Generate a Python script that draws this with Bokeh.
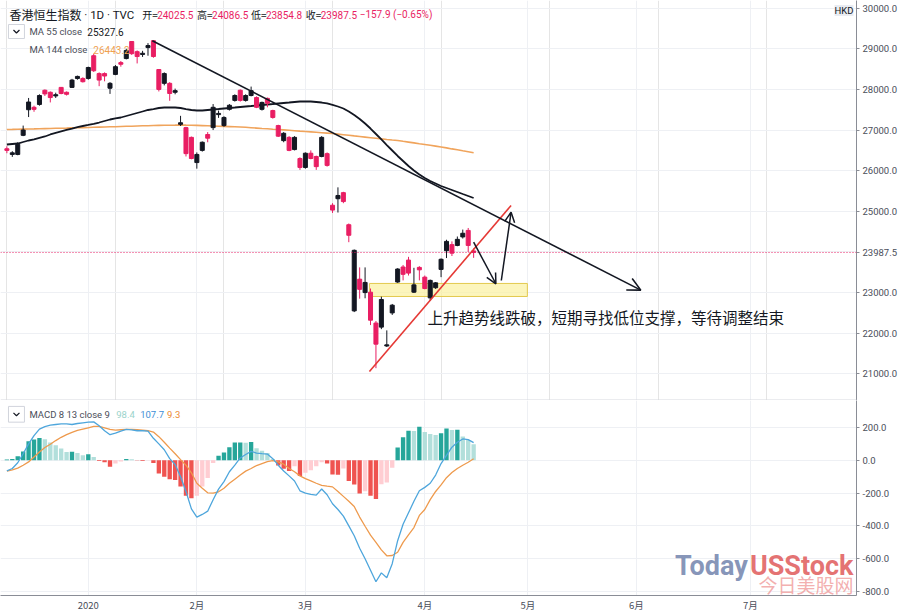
from bokeh.plotting import figure
from bokeh.layouts import column
from bokeh.models import (Range1d, FixedTicker, NumeralTickFormatter, Label, Arrow,
                          OpenHead, Span, Grid)
from bokeh.embed import file_html
from bokeh.resources import INLINE
from bokeh.core.properties import value

# ---------------- data ----------------
opens = [26540, 26400, 26400, 26870, 27500, 27560, 27630, 27980, 27930, 27840,
         28050, 27930, 28050, 28270, 28270, 28270, 28830, 28390, 28390, 28030,
         28370, 28660, 28760, 29180, 28930, 28860, 29030, 29200, 28490, 28150,
         28150, 27930, 27140, 27060, 26820, 26200, 26500, 26890, 27060, 27380,
         27110, 27510, 27730, 27980, 27730, 27850, 27800, 27510, 27780, 27480,
         27110, 26740, 26820, 26520, 26300, 26080, 26430, 26350, 26350, 26420,
         25150, 25310, 25460, 24670, 22550, 23330, 23000, 23010, 22250, 22150,
         21690, 22500, 23260, 23630, 23800, 23010, 23620, 23380, 22870, 23120,
         23570, 24030, 24180, 24160, 24370, 24530, 24025.5]
highs = [26600, 26480, 26700, 27110, 27790, 27600, 27880, 28000, 27950, 27920,
         28060, 27950, 28260, 28340, 28300, 28560, 28880, 28420, 28420, 28180,
         28600, 28700, 29000, 29180, 28960, 28950, 29140, 29200, 28500, 28420,
         28180, 28020, 27350, 27080, 26840, 26450, 26720, 26950, 27640, 27480,
         27340, 27640, 27880, 28000, 27880, 28070, 27830, 27700, 27800, 27500,
         27130, 26950, 26850, 26850, 26330, 26450, 26500, 26370, 26850, 26450,
         25200, 25590, 25480, 24700, 24060, 23620, 23620, 23100, 22300, 22900,
         22070, 22720, 23600, 23680, 23880, 23610, 23650, 23420, 23320, 23260,
         23840, 24300, 24260, 24380, 24550, 24590, 24086.5]
lows = [26430, 26340, 26380, 26850, 27320, 27450, 27600, 27840, 27680, 27790,
        27880, 27850, 28040, 28240, 28170, 28240, 28430, 28080, 28200, 27890,
        28350, 28560, 28740, 28850, 28640, 28800, 28830, 28780, 27950, 28100,
        27720, 27880, 27100, 26350, 26280, 26050, 26470, 26700, 27000, 27300,
        27080, 27480, 27700, 27700, 27700, 27830, 27540, 27480, 27560, 27280,
        26830, 26700, 26480, 26500, 26020, 26050, 26280, 26020, 26330, 26100,
        24960, 24970, 25200, 24240, 22520, 22850, 22860, 22200, 21139, 22100,
        21660, 22450, 23240, 23300, 23420, 22990, 23300, 23080, 22800, 23090,
        23380, 23850, 23900, 24140, 24330, 24000, 23854.8]
closes = [26500, 26440, 26650, 27000, 27690, 27510, 27850, 27890, 27800, 27870,
          27900, 27880, 28230, 28320, 28190, 28540, 28460, 28230, 28330, 28150,
          28560, 28620, 28960, 28880, 28810, 28890, 29080, 28810, 28000, 28390,
          27900, 27970, 27180, 26420, 26300, 26400, 26700, 26800, 27560, 27410,
          27310, 27610, 27850, 27730, 27850, 27970, 27560, 27680, 27660, 27310,
          26850, 26920, 26500, 26820, 26080, 26430, 26300, 26100, 26820, 26130,
          25030, 25390, 25240, 24410, 24040, 23080, 23250, 22320, 21730, 22830,
          21710, 22690, 23580, 23450, 23480, 23190, 23560, 23100, 23300, 23240,
          23820, 24260, 23970, 24310, 24460, 24160, 23987.5]
ma55 = [26645, 26657, 26669, 26706, 26743, 26768, 26805, 26842, 26891, 26928,
        26965, 27002, 27038, 27075, 27100, 27125, 27154, 27186, 27223, 27260,
        27285, 27309, 27346, 27383, 27420, 27457, 27494, 27518, 27543, 27555,
        27560, 27555, 27543, 27518, 27494, 27481, 27481, 27494, 27506, 27518,
        27531, 27543, 27555, 27568, 27580, 27592, 27605, 27617, 27629, 27641,
        27654, 27666, 27678, 27691, 27703, 27703, 27703, 27691, 27678, 27654,
        27617, 27580, 27531, 27457, 27371, 27272, 27161, 27038, 26903, 26768,
        26632, 26497, 26362, 26239, 26116, 26005, 25906, 25820, 25746, 25685,
        25623, 25574, 25525, 25476, 25426, 25377, 25327.6]
ma144 = [27014, 27016, 27019, 27024, 27026, 27029, 27034, 27036, 27038, 27043,
         27046, 27048, 27053, 27056, 27061, 27063, 27068, 27073, 27075, 27080,
         27083, 27088, 27093, 27095, 27100, 27105, 27107, 27112, 27115, 27117,
         27120, 27122, 27125, 27122, 27120, 27115, 27110, 27105, 27100, 27095,
         27090, 27085, 27080, 27075, 27068, 27058, 27048, 27038, 27031, 27021,
         27014, 27004, 26994, 26984, 26974, 26965, 26955, 26945, 26935, 26925,
         26915, 26901, 26886, 26871, 26856, 26842, 26827, 26812, 26797, 26782,
         26768, 26755, 26743, 26723, 26704, 26684, 26664, 26645, 26625, 26605,
         26583, 26561, 26536, 26514, 26490, 26467, 26443.2]
macd_dif = [-64, -50, -15, 40, 100, 150, 190, 205, 214, 218,
            222, 222, 218, 224, 228, 232, 234, 210, 180, 156,
            165, 178, 188, 185, 180, 180, 178, 134, 100, 64,
            10, -26, -100, -190, -296, -346, -330, -310, -240, -176,
            -130, -70, -30, 14, 35, 54, 44, 40, 38, 10,
            -30, -65, -95, -126, -186, -200, -208, -212, -175, -210,
            -265, -300, -340, -400, -460, -536, -600, -670, -740, -686,
            -716, -630, -490, -390, -320, -250, -186, -165, -140, -90,
            -20, 30, 80, 110, 130, 126, 107.7]
macd_dea = [-66, -58, -48, -30, -10, 20, 50, 78, 98, 120,
            140, 156, 170, 182, 190, 198, 206, 206, 198, 188,
            184, 186, 188, 188, 186, 184, 180, 172, 144, 110,
            74, 40, 4, -30, -76, -140, -170, -198, -200, -192,
            -170, -140, -115, -90, -66, -50, -32, -20, -8, -2,
            -10, -24, -50, -70, -95, -112, -125, -140, -153, -158,
            -162, -190, -220, -250, -282, -346, -402, -456, -500, -546,
            -582, -580, -560, -500, -455, -410, -336, -300, -240, -190,
            -150, -106, -75, -50, -30, -12, 9.3]
macd_hist = [4, 8, 24, 54, 116, 126, 136, 128, 108, 92,
             72, 50, 52, 44, 30, 36, 20, -4, -12, -40,
             -20, -8, 8, 6, -2, -4, -1, -16, -80, -100,
             -116, -120, -160, -216, -232, -216, -160, -108, -16, 28,
             48, 80, 108, 108.5, 107, 111, 74, 58, 44, 8,
             -32, -52, -66, -36, -96, -76, -60, -36, -12, -20,
             -86, -88, -50, -126, -148, -202, -188, -216, -236, -146,
             -136, -46, 78, 140, 180, 178, 204, 172, 160, 154,
             164, 194, 184, 186, 145, 124, 98.4]
month_ticks = [15, 35, 55, 77, 96, 116, 137]
month_labels = ["2020", "2月", "3月", "4月", "5月", "6月", "7月"]
price_ticks = [21000, 22000, 23000, 24000, 25000, 26000, 27000, 28000, 29000, 30000]
macd_ticks = [-800, -600, -400, -200, 0, 200]
last_price = 23987.5
# drawn annotations (bar index, price)
down_trend = [(26.8, 29200), (116.8, 23060)]
up_trend = [(66.8, 21058), (92.9, 25143)]
support_zone = (66.8, 95.9, 22904, 23225)
move_arrow1 = [(86.0, 24240), (90.1, 23217)]
move_arrow2 = [(91.1, 23297), (92.9, 24978)]
note_text = "上升趋势线跌破，短期寻找低位支撑，等待调整结束"

n = len(closes)
idx = list(range(n))

# ---------------- geometry helpers ----------------
BAR = 5.44
W = 900
RB = 42
FW = W - RB
XS = -6.4 / BAR
XE = XS + FW / BAR


def X(px):
    return XS + px / BAR


def Y(py):
    return 29000 + (48.3 - py) * 24.612


def YB(py):
    return (460.7 - py) * 6.0


UP = "#131722"
DOWN = "#e91e63"
GRID = "#eef0f4"
AX = "#8a8d96"
LBL = "#4a4e59"

x_range = Range1d(XS, XE)


def style_axis(ax):
    ax.major_label_text_font = "Roboto"
    ax.major_label_text_font_size = "9.5px"
    ax.major_label_text_color = LBL
    ax.axis_line_color = AX
    ax.major_tick_line_color = AX
    ax.minor_tick_line_color = None
    ax.major_tick_in = 0


# ---------------- price pane ----------------
p1 = figure(width=W, height=400, x_range=x_range, y_range=Range1d(Y(400), Y(0)),
            output_backend="svg", toolbar_location=None, x_axis_location=None,
            y_axis_location="right", min_border_left=0, min_border_top=0,
            min_border_bottom=0, min_border_right=RB)
p1.outline_line_color = None
axis_ticks = [t for t in price_ticks if abs(t - last_price) > 300] + [last_price]
p1.yaxis.ticker = FixedTicker(ticks=sorted(axis_ticks))
p1.yaxis.formatter = NumeralTickFormatter(format="0.0")
style_axis(p1.yaxis)
p1.yaxis.major_tick_out = 3
p1.yaxis.major_label_standoff = 3
p1.ygrid.ticker = FixedTicker(ticks=price_ticks)
p1.ygrid.grid_line_color = GRID
p1.add_layout(Grid(dimension=0, ticker=FixedTicker(ticks=month_ticks), grid_line_color=GRID))

# support zone
x0, x1, b0, b1 = support_zone
p1.quad(left=[x0], right=[x1], bottom=[b0], top=[b1], fill_color="#fbf1a0",
        fill_alpha=0.7, line_color="#e3c94e", line_width=1)

# moving averages
p1.line(idx, ma144, line_color="#f0a45c", line_width=1.6)
p1.line(idx, ma55, line_color=UP, line_width=1.8)

# candles
cols = [DOWN if c < o else UP for o, c in zip(opens, closes)]
tops, bots = [], []
for o, c in zip(opens, closes):
    t, b = max(o, c), min(o, c)
    if t - b < 28:
        m = (t + b) / 2
        t, b = m + 14, m - 14
    tops.append(t)
    bots.append(b)
p1.segment(x0=idx, y0=lows, x1=idx, y1=highs, line_color=cols, line_width=1)
p1.vbar(x=idx, width=0.74, top=tops, bottom=bots, fill_color=cols, line_color=cols)

# last price line
p1.add_layout(Span(location=last_price, dimension="width", line_color=DOWN,
                   line_dash="1 2", line_width=1))

# trend lines and arrows
p1.add_layout(Arrow(end=OpenHead(size=13, line_color=UP, line_width=1.6),
                    x_start=down_trend[0][0], y_start=down_trend[0][1],
                    x_end=down_trend[1][0], y_end=down_trend[1][1],
                    line_color=UP, line_width=1.6))
p1.segment(x0=[up_trend[0][0]], y0=[up_trend[0][1]], x1=[up_trend[1][0]],
           y1=[up_trend[1][1]], line_color="#e53935", line_width=1.6)
for a in (move_arrow1, move_arrow2):
    p1.add_layout(Arrow(end=OpenHead(size=10, line_color=UP, line_width=1.5),
                        x_start=a[0][0], y_start=a[0][1], x_end=a[1][0], y_end=a[1][1],
                        line_color=UP, line_width=1.5))

p1.add_layout(Label(x=X(428), y=Y(316), text=note_text, text_font="Noto Sans CJK SC",
                    text_font_size="15.5px", text_color=UP, text_baseline="middle"))


def lab(fig, px, y, txt, color, size="10px", font="Roboto", style="normal", **kw):
    fig.add_layout(Label(x=X(px), y=y, text=txt, text_color=color, text_font=font,
                         text_font_size=size, text_baseline="middle",
                         text_font_style=style, **kw))


# header
lab(p1, 9, Y(14), "香港恒生指数", UP, "12px", "Noto Sans CJK SC")
lab(p1, 84, Y(14), "· 1D · TVC", UP, "11.5px")
hdr = [(142, "开=", UP, "Noto Sans CJK SC"), (157, "24025.5", DOWN, "Roboto"),
       (197, "高=", UP, "Noto Sans CJK SC"), (212, "24086.5", DOWN, "Roboto"),
       (251, "低=", UP, "Noto Sans CJK SC"), (266, "23854.8", DOWN, "Roboto"),
       (306, "收=", UP, "Noto Sans CJK SC"), (321, "23987.5", DOWN, "Roboto"),
       (360, "−157.9 (−0.65%)", DOWN, "Roboto")]
for px, t, c, f in hdr:
    lab(p1, px, Y(14), t, c, "10px", f)


def dropdown(fig, ymap, top, bottom):
    fig.quad(left=[X(8)], right=[X(24)], bottom=[ymap(bottom)], top=[ymap(top)],
             fill_color="white", line_color="#d1d4dc", line_width=1)
    mid = (top + bottom) / 2
    fig.line([X(13), X(16), X(19)], [ymap(mid - 1.5), ymap(mid + 1.5), ymap(mid - 1.5)],
             line_color=UP, line_width=1.2)


dropdown(p1, Y, 24, 38)
lab(p1, 29, Y(31), "MA 55 close", LBL, "9.5px")
lab(p1, 87, Y(31), "25327.6", UP)
lab(p1, 29, Y(49), "MA 144 close", LBL, "9.5px")
lab(p1, 93, Y(49), "26443.2", "#f0a14f")

# currency badge, inside the pane's top-right corner
p1.add_layout(Label(x=X(FW - 3), y=Y(10), text="HKD", text_color=UP, text_font="Roboto",
                    text_font_size="9.5px", text_baseline="middle", text_align="right",
                    background_fill_color="#e9ecf2"))
p1.add_layout(Span(location=Y(399.5), dimension="width", line_color="#d6d8de", line_width=1))

# ---------------- MACD pane ----------------
p2 = figure(width=W, height=214, x_range=x_range, y_range=Range1d(YB(598), YB(400)),
            output_backend="svg", toolbar_location=None, y_axis_location="right",
            min_border_left=0, min_border_top=0, min_border_bottom=16, min_border_right=RB)
p2.outline_line_color = None
p2.yaxis.ticker = FixedTicker(ticks=macd_ticks)
p2.yaxis.formatter = NumeralTickFormatter(format="0.0")
style_axis(p2.yaxis)
style_axis(p2.xaxis)
p2.yaxis.major_tick_out = 3
p2.yaxis.major_label_standoff = 3
p2.xaxis.major_tick_out = 0
p2.xaxis.major_label_standoff = 2
p2.xaxis.ticker = FixedTicker(ticks=month_ticks)
p2.xaxis.major_label_overrides = {t: l for t, l in zip(month_ticks, month_labels)}
p2.xaxis.major_label_text_font = "Noto Sans CJK SC"
p2.ygrid.ticker = FixedTicker(ticks=macd_ticks)
p2.xgrid.ticker = FixedTicker(ticks=month_ticks)
p2.ygrid.grid_line_color = GRID
p2.xgrid.grid_line_color = GRID

hcols = []
for k, h in enumerate(macd_hist):
    prev = macd_hist[k - 1] if k > 0 else 0
    if h >= 0:
        hcols.append("#26a69a" if h > prev else "#b2dfdb")
    else:
        hcols.append("#ef5350" if h < prev else "#ffcdd2")
p2.vbar(x=idx, width=0.8, top=macd_hist, bottom=0, fill_color=hcols, line_color=None)
p2.line(idx, macd_dea, line_color="#ee9a4d", line_width=1.3)
p2.line(idx, macd_dif, line_color="#4ea6dc", line_width=1.3)

dropdown(p2, YB, 406, 422)
lab(p2, 29, YB(414), "MACD 8 13 close 9", LBL, "9.5px")
lab(p2, 116, YB(414), "98.4", "#9ad3cb", "9.5px")
lab(p2, 140, YB(414), "107.7", "#3d8fd6", "9.5px")
lab(p2, 167, YB(414), "9.3", "#ec8a33", "9.5px")

# watermark (kept inside the pane)
p2.add_layout(Label(x=X(FW - 3), y=YB(568), text="USStock", text_color="#e05a5a",
                    text_font="Roboto", text_font_size="27px", text_font_style="bold",
                    text_baseline="middle", text_align="right", text_alpha=0.85))
p2.add_layout(Label(x=X(FW - 109), y=YB(568), text="Today", text_color="#7183ad",
                    text_font="Roboto", text_font_size="27px", text_font_style="bold",
                    text_baseline="middle", text_align="right", text_alpha=0.85))
p2.add_layout(Label(x=X(FW - 3), y=YB(587), text="今日美股网", text_color="#f09a9a",
                    text_font="Noto Sans CJK SC", text_font_size="19px",
                    text_baseline="middle", text_align="right", text_alpha=0.8))

layout = column(p1, p2, spacing=0)
open("out.html", "w").write(file_html(layout, INLINE))
